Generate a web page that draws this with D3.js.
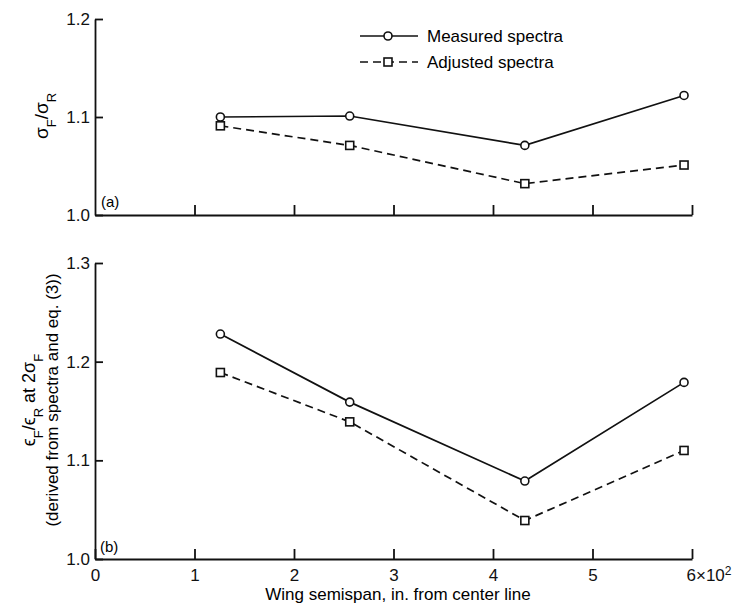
<!DOCTYPE html>
<html>
<head>
<meta charset="utf-8">
<script src="https://cdn.jsdelivr.net/npm/d3@7"></script>
<style>
	body { margin: 0; background: #fff; }
	svg { font-family: "Liberation Sans", Arial, sans-serif; }
	.axis path, .axis line { stroke: #111; stroke-width: 1.8; }
	.axis text { font-size: 17px; fill: #111; }
</style>
</head>
<body>
<div id="chart"></div>
<script>
// wing semispan stations (x10^2 in.)
var stations = [1.26, 2.56, 4.32, 5.92];

// panel (a) sigma_F / sigma_R
var measuredA = [1.100, 1.101, 1.071, 1.122];
var adjustedA = [1.091, 1.071, 1.032, 1.051];

// panel (b) eps_F / eps_R at 2 sigma_F
var measuredB = [1.228, 1.159, 1.079, 1.179];
var adjustedB = [1.189, 1.139, 1.039, 1.110];

var xTicks = [0, 1, 2, 3, 4, 5, 6];
var yTicksA = [1.0, 1.1, 1.2];
var yTicksB = [1.0, 1.1, 1.2, 1.3];

var width = 738, height = 603;

var svg = d3.select("#chart").append("svg")
	.attr("width", width)
	.attr("height", height);

var x = d3.scaleLinear().domain([0, 6]).range([95, 692]);
var yA = d3.scaleLinear().domain([1.0, 1.2]).range([215, 19]);
var yB = d3.scaleLinear().domain([1.0, 1.3]).range([559, 263]);

function drawPanel(y, yTicks, measured, adjusted, showLabels) {
	// x axis, ticks pointing up
	var xAxis = d3.axisBottom(x)
		.tickValues(showLabels ? xTicks : xTicks.slice(1))
		.tickSizeInner(-10)
		.tickSizeOuter(0)
		.tickPadding(10)
		.tickFormat(function(d) { return showLabels ? d : ""; });

	var gx = svg.append("g")
		.attr("class", "axis")
		.attr("transform", "translate(0," + y.range()[0] + ")")
		.call(xAxis);

	if (showLabels) {
		// last label is "6x10^2"
		gx.selectAll(".tick text")
			.filter(function(d) { return d === 6; })
			.text(null)
			.attr("text-anchor", "start")
			.attr("dx", "-6")
			.call(function(t) {
				t.append("tspan").text("6\u00D710");
				t.append("tspan").attr("dy", "-0.5em").style("font-size", "12px").text("2");
			});
	}

	// y axis, ticks pointing right
	var yAxis = d3.axisLeft(y)
		.tickValues(yTicks)
		.tickSizeInner(-8)
		.tickSizeOuter(0)
		.tickPadding(5)
		.tickFormat(d3.format(".1f"));

	svg.append("g")
		.attr("class", "axis")
		.attr("transform", "translate(" + x(0) + ",0)")
		.call(yAxis);

	var line = function(vals) {
		return d3.line()
			.x(function(d, i) { return x(stations[i]); })
			.y(function(d) { return y(d); })(vals);
	};

	svg.append("path")
		.attr("d", line(measured))
		.attr("fill", "none")
		.attr("stroke", "#111")
		.attr("stroke-width", 1.7);

	svg.append("path")
		.attr("d", line(adjusted))
		.attr("fill", "none")
		.attr("stroke", "#111")
		.attr("stroke-width", 1.7)
		.attr("stroke-dasharray", "8,5");

	svg.selectAll(null)
		.data(measured)
		.enter().append("circle")
		.attr("cx", function(d, i) { return x(stations[i]); })
		.attr("cy", function(d) { return y(d); })
		.attr("r", 4)
		.attr("fill", "#fff")
		.attr("stroke", "#111")
		.attr("stroke-width", 1.6);

	svg.selectAll(null)
		.data(adjusted)
		.enter().append("rect")
		.attr("x", function(d, i) { return x(stations[i]) - 4; })
		.attr("y", function(d) { return y(d) - 4; })
		.attr("width", 8)
		.attr("height", 8)
		.attr("fill", "#fff")
		.attr("stroke", "#111")
		.attr("stroke-width", 1.6);
}

drawPanel(yA, yTicksA, measuredA, adjustedA, false);
drawPanel(yB, yTicksB, measuredB, adjustedB, true);

// panel tags
svg.append("text").attr("x", 101).attr("y", 207).style("font-size", "15px").text("(a)");
svg.append("text").attr("x", 100).attr("y", 552).style("font-size", "15px").text("(b)");

// helper for text with subscripts
function sub(t, parts) {
	parts.forEach(function(p) {
		if (p[1]) {
			t.append("tspan").attr("baseline-shift", "sub").style("font-size", "13px").text(p[0]);
		} else {
			t.append("tspan").text(p[0]);
		}
	});
}

// y titles
var tA = svg.append("text")
	.attr("transform", "translate(48,116) rotate(-90)")
	.attr("text-anchor", "middle")
	.style("font-size", "19px");
sub(tA, [["\u03C3", 0], ["F", 1], ["/\u03C3", 0], ["R", 1]]);

var tB1 = svg.append("text")
	.attr("transform", "translate(35,400) rotate(-90)")
	.attr("text-anchor", "middle")
	.style("font-size", "18px");
sub(tB1, [["\u03F5", 0], ["F", 1], ["/\u03F5", 0], ["R", 1], [" at 2\u03C3", 0], ["F", 1]]);

svg.append("text")
	.attr("transform", "translate(58,400) rotate(-90)")
	.attr("text-anchor", "middle")
	.style("font-size", "17px")
	.text("(derived from spectra and eq. (3))");

// x title
svg.append("text")
	.attr("x", 398)
	.attr("y", 600)
	.attr("text-anchor", "middle")
	.style("font-size", "17px")
	.text("Wing semispan, in. from center line");

// legend
var legend = [
	{name: "Measured spectra", dash: null, shape: "circle", y: 36},
	{name: "Adjusted spectra", dash: "8,5", shape: "square", y: 62}
];

legend.forEach(function(l) {
	svg.append("line")
		.attr("x1", 360).attr("x2", 418)
		.attr("y1", l.y).attr("y2", l.y)
		.attr("stroke", "#111")
		.attr("stroke-width", 1.7)
		.attr("stroke-dasharray", l.dash);
	if (l.shape === "circle") {
		svg.append("circle").attr("cx", 388).attr("cy", l.y).attr("r", 4)
			.attr("fill", "#fff").attr("stroke", "#111").attr("stroke-width", 1.6);
	} else {
		svg.append("rect").attr("x", 384).attr("y", l.y - 4).attr("width", 8).attr("height", 8)
			.attr("fill", "#fff").attr("stroke", "#111").attr("stroke-width", 1.6);
	}
	svg.append("text")
		.attr("x", 427)
		.attr("y", l.y + 6)
		.style("font-size", "17px")
		.text(l.name);
});
</script>
</body>
</html>
